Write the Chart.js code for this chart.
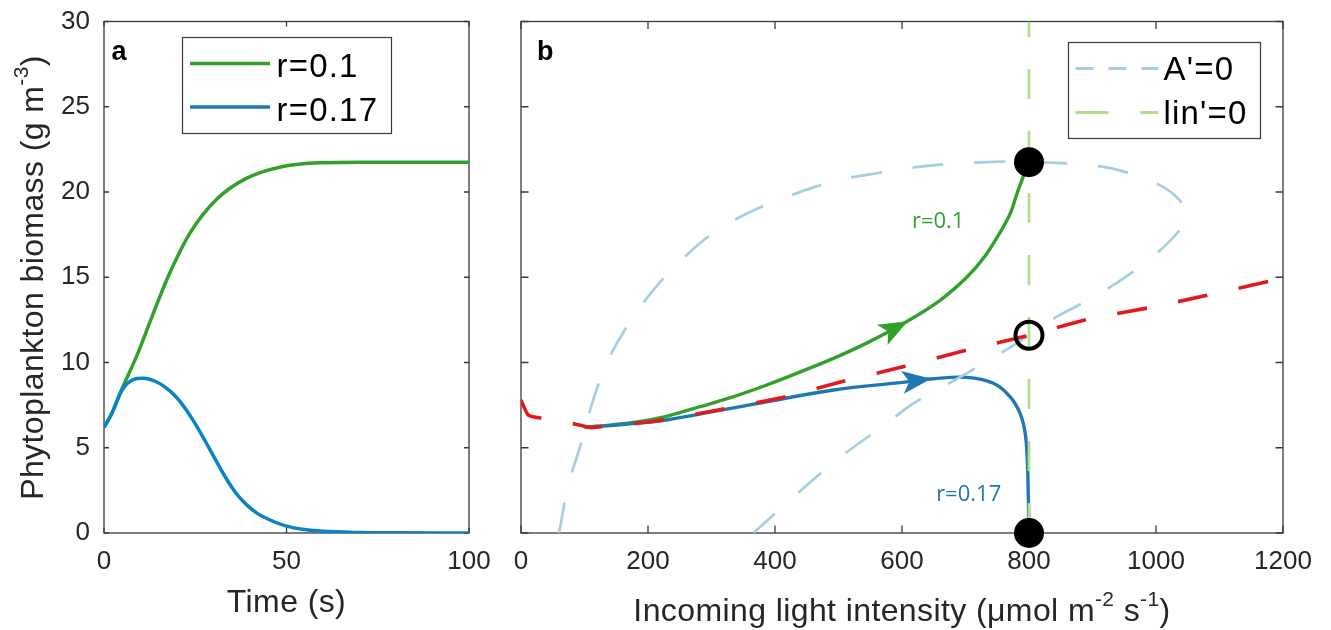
<!DOCTYPE html>
<html><head><meta charset="utf-8">
<script src="https://cdn.jsdelivr.net/npm/chart.js@4/dist/chart.umd.min.js"></script>
<style>
html,body{margin:0;padding:0;background:#fff;width:1331px;height:630px;overflow:hidden}
canvas{position:absolute;left:0;top:0}
</style></head><body>
<canvas id="ca" width="1331" height="630"></canvas>
<canvas id="cb" width="1331" height="630"></canvas>
<script>
// ---------- Panel a data (time series) ----------
const timeR01 = [0,2,4.6,9,13,17.5,23.6,31,39,49,60,70,80,90,100];
const biomassR01 = [6.2,6.95,8.3,10.4,12.6,15.0,17.6,19.6,20.8,21.5,21.72,21.75,21.75,21.75,21.75];
const timeR017 = [0,2,5,8,10.8,14,17.1,19.9,22.6,25.3,28.1,30.8,33.6,36.3,39.1,42,44.6,50,55,60,70,80,100];
const biomassR017 = [6.2,6.95,8.4,9.0,9.08,8.9,8.5,7.95,7.2,6.3,5.25,4.2,3.15,2.3,1.65,1.15,0.85,0.4,0.2,0.1,0.03,0.01,0];
const timeTicks = [0,50,100];
const biomassTicks = [0,5,10,15,20,25,30];

// ---------- Panel b data (phase plane) ----------
const trajR01Light = [100,140,180,224,282,335,387,440,492,545,607,660,702,730,754,770,781,792,800];
const trajR01Biomass = [6.2,6.33,6.5,6.79,7.41,8.0,8.68,9.45,10.24,11.15,12.39,13.65,15.0,16.2,17.6,18.7,19.9,21.0,21.75];
const trajR017Light = [100,140,180,229,300,387,492,597,644,702,744,770,786,794,797.4,799,800];
const trajR017Biomass = [6.2,6.3,6.44,6.63,7.1,7.7,8.39,8.82,9.03,9.13,8.78,8.0,7.02,5.85,4.28,1.94,0];
const redNullLight = [0,11.5,35,85,111,135,210,308,406,506,603,702,800,899,1001,1200];
const redNullBiomass = [7.8,6.92,6.72,6.39,6.18,6.28,6.55,7.2,7.9,8.88,9.76,10.73,11.6,12.59,13.3,14.94];
const aNullLight = [60,74.5,93,112,135,160,185,214,250,285,329,371,418,463,513,560,610,660,754,822,912,959,1006,1035,1048,1040,1001,959,912,875,840,800,749,665,618,576,497,424,366];
const aNullBiomass = [0,2.8,5.06,7.6,9.95,11.7,13.1,14.5,15.9,17.1,18.2,19.0,19.7,20.3,20.8,21.1,21.4,21.6,21.78,21.74,21.5,21.1,20.4,19.6,18.7,17.9,16.4,15.2,14.06,13.3,12.6,11.6,10.4,8.58,7.6,6.43,4.28,1.94,0];
const linNullLight = [800,800];
const linNullBiomass = [0,30];
const stableLight = [800,800];
const stableBiomass = [21.75,0];
const saddleLight = [800];
const saddleBiomass = [11.6];
const arrowTipLight = [609,646];
const arrowTipBiomass = [12.42,9.04];
const arrowTailLight = [545,597];
const arrowTailBiomass = [11.15,8.82];
const lightTicks = [0,200,400,600,800,1000,1200];
const curveLabels = ['r=0.1','r=0.17'];
const curveLabelLight = [657,705];
const curveLabelBiomass = [18.24,2.23];

const GREEN='#33a02c', BLUE='#1f78b4', BLUE_A='#0a82c6', RED='#e31a1c', LBLUE='#a6cee3', LGREEN='#b2df8a';
const FAM="'Liberation Sans', Arial, sans-serif";
const AX='#262626';
const pts=(xs,ys)=>xs.map((x,i)=>({x:x,y:ys[i]}));

function drawRich(ctx, parts, x, y, size, supSize, raise, align){
  let w=0;
  parts.forEach(p=>{ctx.font=(p.sup?supSize:size)+'px '+FAM; w+=ctx.measureText(p.t).width;});
  let cx = align==='center' ? x-w/2 : x;
  ctx.textAlign='left'; ctx.textBaseline='alphabetic';
  parts.forEach(p=>{ctx.font=(p.sup?supSize:size)+'px '+FAM; ctx.fillText(p.t,cx,p.sup?y-raise:y); cx+=ctx.measureText(p.t).width;});
}

function framePlugin(tickLen){
  return {id:'frame', beforeDatasetsDraw(chart){
    const {ctx, chartArea:a, scales:{x,y}} = chart;
    ctx.save();
    ctx.strokeStyle='#3a3a3a'; ctx.lineWidth=1.3;
    ctx.strokeRect(a.left,a.top,a.right-a.left,a.bottom-a.top);
    ctx.beginPath();
    x.ticks.forEach(t=>{const p=x.getPixelForValue(t.value); ctx.moveTo(p,a.bottom); ctx.lineTo(p,a.bottom-tickLen); ctx.moveTo(p,a.top); ctx.lineTo(p,a.top+tickLen);});
    y.ticks.forEach(t=>{const p=y.getPixelForValue(t.value); ctx.moveTo(a.left,p); ctx.lineTo(a.left+tickLen,p); ctx.moveTo(a.right,p); ctx.lineTo(a.right-tickLen,p);});
    ctx.stroke(); ctx.restore();
  }};
}

function tickCallbackFrom(list){ return (v)=> list.includes(v) ? String(v) : ''; }
const hiddenGridX = {display:false, drawTicks:true, tickLength:8};
const hiddenGridY = {display:false, drawTicks:true, tickLength:10};

// ---------- Chart a ----------
new Chart(document.getElementById('ca'), {
  type:'scatter',
  data:{datasets:[
    {label:'r=0.1', data:pts(timeR01,biomassR01), showLine:true, borderColor:GREEN, borderWidth:3.5, pointRadius:0, cubicInterpolationMode:'monotone', order:1},
    {label:'r=0.17', data:pts(timeR017,biomassR017), showLine:true, borderColor:BLUE_A, borderWidth:3.5, pointRadius:0, cubicInterpolationMode:'monotone', order:0}
  ]},
  options:{responsive:false, animation:false, events:[],
    layout:{padding:{left:0,top:21.5,right:862,bottom:0}},
    plugins:{legend:{display:false}, tooltip:{enabled:false}},
    scales:{
      x:{type:'linear', min:0, max:100, ticks:{stepSize:50, callback:tickCallbackFrom(timeTicks), font:{family:FAM,size:26}, color:AX, padding:5, maxRotation:0}, grid:hiddenGridX, border:{display:false}, afterFit(s){s.height=97;}},
      y:{type:'linear', min:0, max:30, ticks:{stepSize:5, callback:tickCallbackFrom(biomassTicks), font:{family:FAM,size:26}, color:AX, padding:4}, grid:hiddenGridY, border:{display:false}, afterFit(s){s.width=104;}}
    }
  },
  plugins:[framePlugin(5), {id:'decorA', afterDraw(chart){
    const {ctx, chartArea:a} = chart;
    ctx.save();
    const lx=a.left+78.5, ly=a.top+16;
    ctx.fillStyle='#fff'; ctx.fillRect(lx,ly,209,96);
    ctx.strokeStyle='#3a3a3a'; ctx.lineWidth=1.2; ctx.strokeRect(lx,ly,209,96);
    ctx.lineWidth=3.5;
    ctx.strokeStyle=GREEN; ctx.beginPath(); ctx.moveTo(lx+7.5,ly+26); ctx.lineTo(lx+87.5,ly+26); ctx.stroke();
    ctx.strokeStyle=BLUE; ctx.beginPath(); ctx.moveTo(lx+7.5,ly+69.5); ctx.lineTo(lx+87.5,ly+69.5); ctx.stroke();
    ctx.fillStyle='#000'; ctx.font='33px '+FAM; ctx.letterSpacing='1.2px'; ctx.textAlign='left'; ctx.textBaseline='alphabetic';
    ctx.fillText(chart.data.datasets[0].label, lx+94, ly+39.5);
    ctx.fillText(chart.data.datasets[1].label, lx+94, ly+83);
    ctx.letterSpacing='0px';
    ctx.font='bold 27px '+FAM; ctx.fillText('a', a.left+7.5, a.top+38.5);
    ctx.fillStyle=AX; ctx.letterSpacing='0.4px';
    drawRich(ctx,[{t:'Time (s)'}], (a.left+a.right)/2, 611.5, 32, 21, 15, 'center');
    ctx.translate(43, 277.5); ctx.rotate(-Math.PI/2);
    drawRich(ctx,[{t:'Phytoplankton biomass (g m'},{t:'-3',sup:true},{t:')'}], 0, 0, 32, 21, 15, 'center');
    ctx.restore();
  }}]
});

// ---------- Chart b ----------
new Chart(document.getElementById('cb'), {
  type:'scatter',
  data:{datasets:[
    {label:'stable', data:pts(stableLight,stableBiomass), pointRadius:15, pointBackgroundColor:'#000', pointBorderColor:'#000', pointBorderWidth:0, showLine:false, clip:false, order:0},
    {label:'saddle', data:pts(saddleLight,saddleBiomass), pointRadius:13.5, pointBackgroundColor:'rgba(0,0,0,0)', pointBorderColor:'#000', pointBorderWidth:4, showLine:false, clip:false, order:1},
    {label:'red', data:pts(redNullLight,redNullBiomass), showLine:true, borderColor:RED, borderWidth:3.6, borderDash:[30,32], pointRadius:0, tension:0.2, order:2},
    {label:"A'=0", data:pts(aNullLight,aNullBiomass), showLine:true, borderColor:LBLUE, borderWidth:2.7, borderDash:[31,31], pointRadius:0, tension:0.4, order:3},
    {label:"lin'=0", data:pts(linNullLight,linNullBiomass), showLine:true, borderColor:LGREEN, borderWidth:2.7, borderDash:[30,32], pointRadius:0, order:4},
    {label:'r=0.17', data:pts(trajR017Light,trajR017Biomass), showLine:true, borderColor:BLUE, borderWidth:3.4, pointRadius:0, tension:0.35, order:5},
    {label:'r=0.1', data:pts(trajR01Light,trajR01Biomass), showLine:true, borderColor:GREEN, borderWidth:3.4, pointRadius:0, tension:0.35, order:6}
  ]},
  options:{responsive:false, animation:false, events:[],
    layout:{padding:{left:521,top:21.5,right:48,bottom:0}},
    plugins:{legend:{display:false}, tooltip:{enabled:false}},
    scales:{
      x:{type:'linear', min:0, max:1200, ticks:{stepSize:200, callback:tickCallbackFrom(lightTicks), font:{family:FAM,size:26}, color:AX, padding:5, maxRotation:0}, grid:hiddenGridX, border:{display:false}, afterFit(s){s.height=97;}},
      y:{type:'linear', min:0, max:30, ticks:{stepSize:5, display:false}, grid:{display:false, drawTicks:false}, border:{display:false}, afterFit(s){s.width=0;}}
    }
  },
  plugins:[framePlugin(7.5), {id:'arrows', afterDatasetsDraw(chart){
    const {ctx, scales:{x,y}} = chart;
    const cols=[GREEN,BLUE];
    ctx.save();
    arrowTipLight.forEach((v,i)=>{
      const tx=x.getPixelForValue(v), ty=y.getPixelForValue(arrowTipBiomass[i]);
      const fx=x.getPixelForValue(arrowTailLight[i]), fy=y.getPixelForValue(arrowTailBiomass[i]);
      const ang=Math.atan2(ty-fy,tx-fx);
      ctx.translate(tx,ty); ctx.rotate(ang);
      ctx.fillStyle=cols[i];
      ctx.beginPath(); ctx.moveTo(0,0); ctx.lineTo(-29,-11.5); ctx.lineTo(-22,0); ctx.lineTo(-29,11.5); ctx.closePath(); ctx.fill();
      ctx.setTransform(1,0,0,1,0,0);
    });
    ctx.restore();
  }}, {id:'decorB', afterDraw(chart){
    const {ctx, chartArea:a, scales:{x,y}} = chart;
    ctx.save();
    ctx.font="22px 'Open Sans', sans-serif"; ctx.textAlign='center'; ctx.textBaseline='middle';
    ctx.fillStyle=GREEN; ctx.fillText(curveLabels[0], x.getPixelForValue(curveLabelLight[0]), y.getPixelForValue(curveLabelBiomass[0]));
    ctx.fillStyle=BLUE; ctx.fillText(curveLabels[1], x.getPixelForValue(curveLabelLight[1]), y.getPixelForValue(curveLabelBiomass[1]));
    const lx=a.right-214.5, ly=a.top+21;
    ctx.fillStyle='#fff'; ctx.fillRect(lx,ly,192,96);
    ctx.strokeStyle='#3a3a3a'; ctx.lineWidth=1.2; ctx.strokeRect(lx,ly,192,96);
    ctx.lineWidth=3;
    ctx.strokeStyle=LBLUE; ctx.setLineDash([18,15]); ctx.beginPath(); ctx.moveTo(lx+7,ly+26); ctx.lineTo(lx+90,ly+26); ctx.stroke();
    ctx.strokeStyle=LGREEN; ctx.setLineDash([33,32]); ctx.beginPath(); ctx.moveTo(lx+7,ly+70); ctx.lineTo(lx+90,ly+70); ctx.stroke();
    ctx.setLineDash([]);
    ctx.fillStyle='#000'; ctx.font='33px '+FAM; ctx.letterSpacing='1.2px'; ctx.textAlign='left'; ctx.textBaseline='alphabetic';
    ctx.fillText(chart.data.datasets[3].label, lx+95, ly+37.5);
    ctx.fillText(chart.data.datasets[4].label, lx+95, ly+81);
    ctx.letterSpacing='0px';
    ctx.font='bold 27px '+FAM; ctx.fillText('b', a.left+16, a.top+38.5);
    ctx.fillStyle=AX; ctx.letterSpacing='0.4px';
    drawRich(ctx,[{t:'Incoming light intensity ('},{t:'\u03bc'},{t:'mol m'},{t:'-2',sup:true},{t:' s'},{t:'-1',sup:true},{t:')'}], (a.left+a.right)/2, 621, 32, 21, 15, 'center');
    ctx.restore();
  }}]
});
</script></body></html>
